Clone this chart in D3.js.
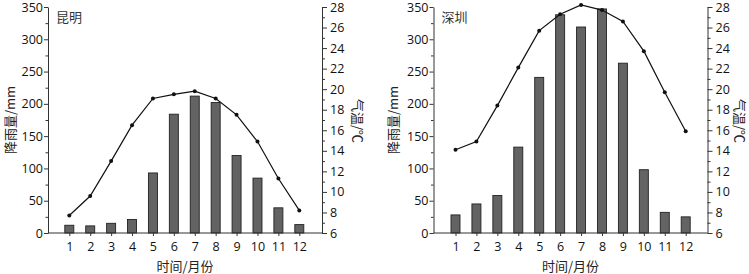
<!DOCTYPE html>
<html>
<head>
<meta charset="utf-8">
<script src="https://cdn.jsdelivr.net/npm/d3@7"></script>
<style>
  html, body { margin: 0; padding: 0; background: #fff; }
  svg { display: block; }
  text { font-family: "Open Sans", "Liberation Sans", sans-serif; }
  .cjk { font-family: "Noto Sans CJK SC", sans-serif; }
</style>
</head>
<body>
<svg id="chart" width="749" height="274"></svg>
<script>
const months = [1, 2, 3, 4, 5, 6, 7, 8, 9, 10, 11, 12];
const kmRain = [12, 11, 15, 21, 93, 184, 212, 202, 120, 85, 39, 13];
const kmTemp = [7.7, 9.6, 13.0, 16.5, 19.1, 19.5, 19.8, 19.1, 17.5, 14.9, 11.3, 8.2];
const szRain = [28, 45, 58, 133, 241, 338, 319, 347, 263, 98, 32, 25];
const szTemp = [14.1, 14.9, 18.4, 22.1, 25.7, 27.3, 28.2, 27.7, 26.6, 23.7, 19.7, 15.9];
const rainTicks = [0, 50, 100, 150, 200, 250, 300, 350];
const rainMinor = [25, 75, 125, 175, 225, 275, 325];
const tempTicks = [6, 8, 10, 12, 14, 16, 18, 20, 22, 24, 26, 28];
const tempMinor = [7, 9, 11, 13, 15, 17, 19, 21, 23, 25, 27];
const titles = ["昆明", "深圳"];
const xTitle = "时间/月份";
const yLeftTitle = "降雨量/mm";
const yRightTitle = "气温/℃";

const svg = d3.select("#chart");

function panel(cfg) {
  const g = svg.append("g");
  const top = 7, bottom = 233;
  const x = d3.scaleLinear().domain([1, 12]).range([cfg.m1, cfg.m12]);
  const yR = d3.scaleLinear().domain([0, 350]).range([bottom, top]);
  const yT = d3.scaleLinear().domain([6, 28]).range([bottom, top]);
  const axisColor = "#333";

  // bars
  const bw = 9;
  g.selectAll("rect.bar").data(months).join("rect")
    .attr("class", "bar")
    .attr("x", (d) => x(d) - bw / 2)
    .attr("y", (d, i) => yR(cfg.rain[i]))
    .attr("width", bw)
    .attr("height", (d, i) => bottom - yR(cfg.rain[i]))
    .attr("fill", "#636363")
    .attr("stroke", "#222")
    .attr("stroke-width", 0.9);

  // line
  const line = d3.line().x((d) => x(d)).y((d, i) => yT(cfg.temp[i]));
  g.append("path").datum(months)
    .attr("d", line)
    .attr("fill", "none")
    .attr("stroke", "#111")
    .attr("stroke-width", 1.2);
  g.selectAll("circle.pt").data(months).join("circle")
    .attr("class", "pt")
    .attr("cx", (d) => x(d))
    .attr("cy", (d, i) => yT(cfg.temp[i]))
    .attr("r", 2)
    .attr("fill", "#111");

  // left axis
  const la = g.append("g").attr("transform", `translate(${cfg.axL},0)`);
  la.call(d3.axisLeft(yR).tickValues(rainTicks).tickSize(4).tickSizeOuter(0).tickPadding(1));
  const lm = g.append("g").attr("transform", `translate(${cfg.axL},0)`);
  lm.call(d3.axisLeft(yR).tickValues(rainMinor).tickSize(2.5).tickSizeOuter(0).tickFormat(""));
  lm.select(".domain").remove();

  // right axis
  const ra = g.append("g").attr("transform", `translate(${cfg.axR},0)`);
  ra.call(d3.axisRight(yT).tickValues(tempTicks).tickSize(5).tickSizeOuter(0).tickPadding(3));
  const rm = g.append("g").attr("transform", `translate(${cfg.axR},0)`);
  rm.call(d3.axisRight(yT).tickValues(tempMinor).tickSize(3).tickSizeOuter(0).tickFormat(""));
  rm.select(".domain").remove();

  // bottom axis
  const ba = g.append("g").attr("transform", `translate(0,${bottom})`);
  ba.call(d3.axisBottom(x).tickValues(months).tickSize(3).tickSizeOuter(0).tickPadding(6).tickFormat(d3.format("d")));
  ba.select(".domain").remove();
  g.append("line")
    .attr("x1", cfg.axL).attr("x2", cfg.axR)
    .attr("y1", bottom).attr("y2", bottom)
    .attr("stroke", axisColor).attr("stroke-width", 1);

  g.selectAll(".tick text").attr("font-size", 12.5).attr("fill", "#111")
    .attr("font-family", "'Open Sans', 'Liberation Sans', sans-serif");
  g.selectAll(".domain, .tick line").attr("stroke", axisColor);

  // titles
  g.append("text").attr("class", "cjk")
    .attr("x", cfg.axL + 8).attr("y", 22)
    .attr("font-size", 13).attr("fill", "#333")
    .text(cfg.title);
  g.append("text").attr("class", "cjk")
    .attr("x", (cfg.axL + cfg.axR) / 2).attr("y", 271)
    .attr("text-anchor", "middle")
    .attr("font-size", 13).attr("fill", "#222")
    .text(xTitle);
  g.append("text").attr("class", "cjk")
    .attr("transform", `translate(${cfg.axL - cfg.lOff},120) rotate(-90)`)
    .attr("text-anchor", "middle")
    .attr("dy", "0.35em")
    .attr("font-size", 13).attr("fill", "#222")
    .text(yLeftTitle);
  g.append("text").attr("class", "cjk")
    .attr("transform", `translate(${cfg.axR + cfg.rOff},121) rotate(90)`)
    .attr("text-anchor", "middle")
    .attr("dy", "0.35em")
    .attr("font-size", 13).attr("fill", "#222")
    .text(yRightTitle);
}

panel({ axL: 48, axR: 322, m1: 69.3, m12: 299.3, rain: kmRain, temp: kmTemp, title: titles[0], lOff: 38, rOff: 36 });
panel({ axL: 433.5, axR: 707.5, m1: 455.5, m12: 685.7, rain: szRain, temp: szTemp, title: titles[1], lOff: 40, rOff: 32 });
</script>
</body>
</html>
